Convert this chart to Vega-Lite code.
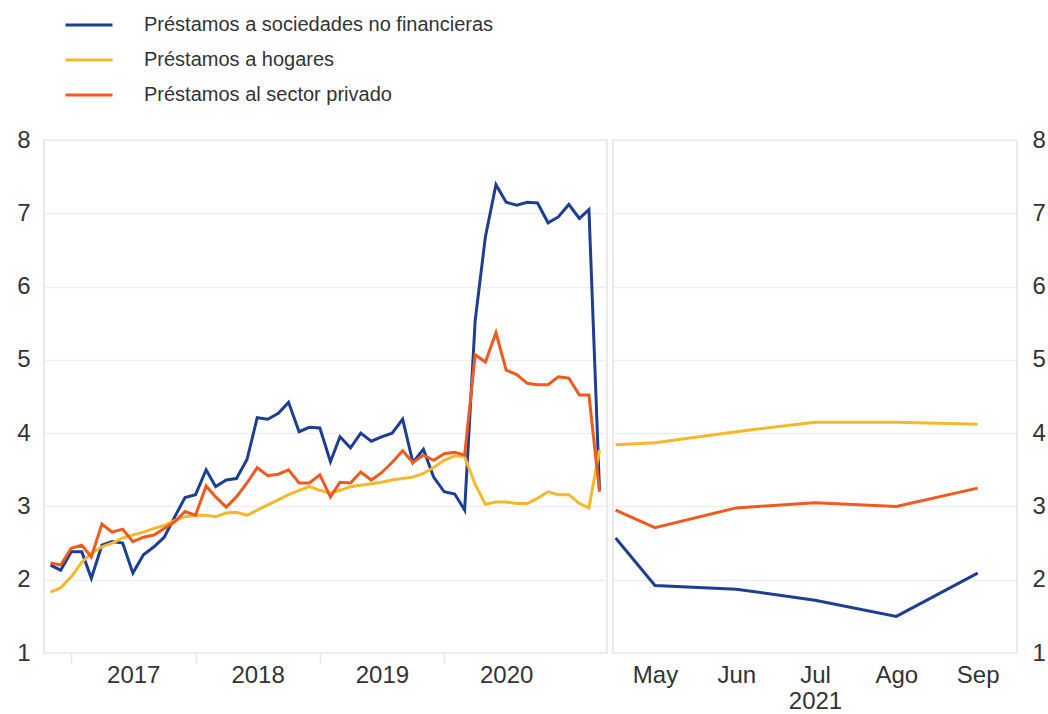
{
  "$schema": "https://vega.github.io/schema/vega-lite/v6.json",
  "background": "white",
  "padding": {"left": 15, "top": 0, "right": 0, "bottom": 0},
  "config": {
    "font": "Liberation Sans",
    "view": {"stroke": "#e3e3e3", "strokeWidth": 1.5},
    "axis": {
      "labelFont": "Liberation Sans",
      "labelFontSize": 24,
      "labelColor": "#333333",
      "titleFont": "Liberation Sans",
      "titleFontSize": 24,
      "titleFontWeight": "normal",
      "titleColor": "#333333",
      "domain": false,
      "gridColor": "#eeeeee",
      "gridWidth": 1.5
    },
    "line": {"strokeWidth": 3}
  },
  "datasets": {
    "mensual": [
      {"fecha": "2016-11-01", "serie": "Préstamos a sociedades no financieras", "valor": 2.20},
      {"fecha": "2016-12-01", "serie": "Préstamos a sociedades no financieras", "valor": 2.13},
      {"fecha": "2017-01-01", "serie": "Préstamos a sociedades no financieras", "valor": 2.38},
      {"fecha": "2017-02-01", "serie": "Préstamos a sociedades no financieras", "valor": 2.38},
      {"fecha": "2017-03-01", "serie": "Préstamos a sociedades no financieras", "valor": 2.02},
      {"fecha": "2017-04-01", "serie": "Préstamos a sociedades no financieras", "valor": 2.47},
      {"fecha": "2017-05-01", "serie": "Préstamos a sociedades no financieras", "valor": 2.52},
      {"fecha": "2017-06-01", "serie": "Préstamos a sociedades no financieras", "valor": 2.50},
      {"fecha": "2017-07-01", "serie": "Préstamos a sociedades no financieras", "valor": 2.09},
      {"fecha": "2017-08-01", "serie": "Préstamos a sociedades no financieras", "valor": 2.34},
      {"fecha": "2017-09-01", "serie": "Préstamos a sociedades no financieras", "valor": 2.45},
      {"fecha": "2017-10-01", "serie": "Préstamos a sociedades no financieras", "valor": 2.58},
      {"fecha": "2017-11-01", "serie": "Préstamos a sociedades no financieras", "valor": 2.86},
      {"fecha": "2017-12-01", "serie": "Préstamos a sociedades no financieras", "valor": 3.12},
      {"fecha": "2018-01-01", "serie": "Préstamos a sociedades no financieras", "valor": 3.16},
      {"fecha": "2018-02-01", "serie": "Préstamos a sociedades no financieras", "valor": 3.50},
      {"fecha": "2018-03-01", "serie": "Préstamos a sociedades no financieras", "valor": 3.27},
      {"fecha": "2018-04-01", "serie": "Préstamos a sociedades no financieras", "valor": 3.36},
      {"fecha": "2018-05-01", "serie": "Préstamos a sociedades no financieras", "valor": 3.38},
      {"fecha": "2018-06-01", "serie": "Préstamos a sociedades no financieras", "valor": 3.64},
      {"fecha": "2018-07-01", "serie": "Préstamos a sociedades no financieras", "valor": 4.21},
      {"fecha": "2018-08-01", "serie": "Préstamos a sociedades no financieras", "valor": 4.19},
      {"fecha": "2018-09-01", "serie": "Préstamos a sociedades no financieras", "valor": 4.27},
      {"fecha": "2018-10-01", "serie": "Préstamos a sociedades no financieras", "valor": 4.42},
      {"fecha": "2018-11-01", "serie": "Préstamos a sociedades no financieras", "valor": 4.02},
      {"fecha": "2018-12-01", "serie": "Préstamos a sociedades no financieras", "valor": 4.08},
      {"fecha": "2019-01-01", "serie": "Préstamos a sociedades no financieras", "valor": 4.07},
      {"fecha": "2019-02-01", "serie": "Préstamos a sociedades no financieras", "valor": 3.61},
      {"fecha": "2019-03-01", "serie": "Préstamos a sociedades no financieras", "valor": 3.95},
      {"fecha": "2019-04-01", "serie": "Préstamos a sociedades no financieras", "valor": 3.80},
      {"fecha": "2019-05-01", "serie": "Préstamos a sociedades no financieras", "valor": 4.00},
      {"fecha": "2019-06-01", "serie": "Préstamos a sociedades no financieras", "valor": 3.89},
      {"fecha": "2019-07-01", "serie": "Préstamos a sociedades no financieras", "valor": 3.95},
      {"fecha": "2019-08-01", "serie": "Préstamos a sociedades no financieras", "valor": 4.00},
      {"fecha": "2019-09-01", "serie": "Préstamos a sociedades no financieras", "valor": 4.19},
      {"fecha": "2019-10-01", "serie": "Préstamos a sociedades no financieras", "valor": 3.60},
      {"fecha": "2019-11-01", "serie": "Préstamos a sociedades no financieras", "valor": 3.78},
      {"fecha": "2019-12-01", "serie": "Préstamos a sociedades no financieras", "valor": 3.40},
      {"fecha": "2020-01-01", "serie": "Préstamos a sociedades no financieras", "valor": 3.20},
      {"fecha": "2020-02-01", "serie": "Préstamos a sociedades no financieras", "valor": 3.17},
      {"fecha": "2020-03-01", "serie": "Préstamos a sociedades no financieras", "valor": 2.95},
      {"fecha": "2020-04-01", "serie": "Préstamos a sociedades no financieras", "valor": 5.54},
      {"fecha": "2020-05-01", "serie": "Préstamos a sociedades no financieras", "valor": 6.68},
      {"fecha": "2020-06-01", "serie": "Préstamos a sociedades no financieras", "valor": 7.39},
      {"fecha": "2020-07-01", "serie": "Préstamos a sociedades no financieras", "valor": 7.15},
      {"fecha": "2020-08-01", "serie": "Préstamos a sociedades no financieras", "valor": 7.11},
      {"fecha": "2020-09-01", "serie": "Préstamos a sociedades no financieras", "valor": 7.15},
      {"fecha": "2020-10-01", "serie": "Préstamos a sociedades no financieras", "valor": 7.14},
      {"fecha": "2020-11-01", "serie": "Préstamos a sociedades no financieras", "valor": 6.87},
      {"fecha": "2020-12-01", "serie": "Préstamos a sociedades no financieras", "valor": 6.95},
      {"fecha": "2021-01-01", "serie": "Préstamos a sociedades no financieras", "valor": 7.12},
      {"fecha": "2021-02-01", "serie": "Préstamos a sociedades no financieras", "valor": 6.93},
      {"fecha": "2021-03-01", "serie": "Préstamos a sociedades no financieras", "valor": 7.05},
      {"fecha": "2021-04-01", "serie": "Préstamos a sociedades no financieras", "valor": 3.22},
      {"fecha": "2016-11-01", "serie": "Préstamos a hogares", "valor": 1.83},
      {"fecha": "2016-12-01", "serie": "Préstamos a hogares", "valor": 1.89},
      {"fecha": "2017-01-01", "serie": "Préstamos a hogares", "valor": 2.04},
      {"fecha": "2017-02-01", "serie": "Préstamos a hogares", "valor": 2.24},
      {"fecha": "2017-03-01", "serie": "Préstamos a hogares", "valor": 2.36},
      {"fecha": "2017-04-01", "serie": "Préstamos a hogares", "valor": 2.45},
      {"fecha": "2017-05-01", "serie": "Préstamos a hogares", "valor": 2.50},
      {"fecha": "2017-06-01", "serie": "Préstamos a hogares", "valor": 2.57},
      {"fecha": "2017-07-01", "serie": "Préstamos a hogares", "valor": 2.61},
      {"fecha": "2017-08-01", "serie": "Préstamos a hogares", "valor": 2.65},
      {"fecha": "2017-09-01", "serie": "Préstamos a hogares", "valor": 2.70},
      {"fecha": "2017-10-01", "serie": "Préstamos a hogares", "valor": 2.74},
      {"fecha": "2017-11-01", "serie": "Préstamos a hogares", "valor": 2.81},
      {"fecha": "2017-12-01", "serie": "Préstamos a hogares", "valor": 2.86},
      {"fecha": "2018-01-01", "serie": "Préstamos a hogares", "valor": 2.88},
      {"fecha": "2018-02-01", "serie": "Préstamos a hogares", "valor": 2.88},
      {"fecha": "2018-03-01", "serie": "Préstamos a hogares", "valor": 2.86},
      {"fecha": "2018-04-01", "serie": "Préstamos a hogares", "valor": 2.91},
      {"fecha": "2018-05-01", "serie": "Préstamos a hogares", "valor": 2.92},
      {"fecha": "2018-06-01", "serie": "Préstamos a hogares", "valor": 2.88},
      {"fecha": "2018-07-01", "serie": "Préstamos a hogares", "valor": 2.95},
      {"fecha": "2018-08-01", "serie": "Préstamos a hogares", "valor": 3.02},
      {"fecha": "2018-09-01", "serie": "Préstamos a hogares", "valor": 3.09},
      {"fecha": "2018-10-01", "serie": "Préstamos a hogares", "valor": 3.16},
      {"fecha": "2018-11-01", "serie": "Préstamos a hogares", "valor": 3.22},
      {"fecha": "2018-12-01", "serie": "Préstamos a hogares", "valor": 3.27},
      {"fecha": "2019-01-01", "serie": "Préstamos a hogares", "valor": 3.22},
      {"fecha": "2019-02-01", "serie": "Préstamos a hogares", "valor": 3.18},
      {"fecha": "2019-03-01", "serie": "Préstamos a hogares", "valor": 3.22},
      {"fecha": "2019-04-01", "serie": "Préstamos a hogares", "valor": 3.27},
      {"fecha": "2019-05-01", "serie": "Préstamos a hogares", "valor": 3.29},
      {"fecha": "2019-06-01", "serie": "Préstamos a hogares", "valor": 3.31},
      {"fecha": "2019-07-01", "serie": "Préstamos a hogares", "valor": 3.33},
      {"fecha": "2019-08-01", "serie": "Préstamos a hogares", "valor": 3.36},
      {"fecha": "2019-09-01", "serie": "Préstamos a hogares", "valor": 3.38},
      {"fecha": "2019-10-01", "serie": "Préstamos a hogares", "valor": 3.40},
      {"fecha": "2019-11-01", "serie": "Préstamos a hogares", "valor": 3.45},
      {"fecha": "2019-12-01", "serie": "Préstamos a hogares", "valor": 3.53},
      {"fecha": "2020-01-01", "serie": "Préstamos a hogares", "valor": 3.63},
      {"fecha": "2020-02-01", "serie": "Préstamos a hogares", "valor": 3.69},
      {"fecha": "2020-03-01", "serie": "Préstamos a hogares", "valor": 3.68},
      {"fecha": "2020-04-01", "serie": "Préstamos a hogares", "valor": 3.30},
      {"fecha": "2020-05-01", "serie": "Préstamos a hogares", "valor": 3.03},
      {"fecha": "2020-06-01", "serie": "Préstamos a hogares", "valor": 3.06},
      {"fecha": "2020-07-01", "serie": "Préstamos a hogares", "valor": 3.06},
      {"fecha": "2020-08-01", "serie": "Préstamos a hogares", "valor": 3.04},
      {"fecha": "2020-09-01", "serie": "Préstamos a hogares", "valor": 3.04},
      {"fecha": "2020-10-01", "serie": "Préstamos a hogares", "valor": 3.11},
      {"fecha": "2020-11-01", "serie": "Préstamos a hogares", "valor": 3.20},
      {"fecha": "2020-12-01", "serie": "Préstamos a hogares", "valor": 3.16},
      {"fecha": "2021-01-01", "serie": "Préstamos a hogares", "valor": 3.16},
      {"fecha": "2021-02-01", "serie": "Préstamos a hogares", "valor": 3.04},
      {"fecha": "2021-03-01", "serie": "Préstamos a hogares", "valor": 2.98},
      {"fecha": "2021-04-01", "serie": "Préstamos a hogares", "valor": 3.77},
      {"fecha": "2016-11-01", "serie": "Préstamos al sector privado", "valor": 2.23},
      {"fecha": "2016-12-01", "serie": "Préstamos al sector privado", "valor": 2.20},
      {"fecha": "2017-01-01", "serie": "Préstamos al sector privado", "valor": 2.43},
      {"fecha": "2017-02-01", "serie": "Préstamos al sector privado", "valor": 2.47},
      {"fecha": "2017-03-01", "serie": "Préstamos al sector privado", "valor": 2.31},
      {"fecha": "2017-04-01", "serie": "Préstamos al sector privado", "valor": 2.76},
      {"fecha": "2017-05-01", "serie": "Préstamos al sector privado", "valor": 2.65},
      {"fecha": "2017-06-01", "serie": "Préstamos al sector privado", "valor": 2.69},
      {"fecha": "2017-07-01", "serie": "Préstamos al sector privado", "valor": 2.52},
      {"fecha": "2017-08-01", "serie": "Préstamos al sector privado", "valor": 2.58},
      {"fecha": "2017-09-01", "serie": "Préstamos al sector privado", "valor": 2.61},
      {"fecha": "2017-10-01", "serie": "Préstamos al sector privado", "valor": 2.70},
      {"fecha": "2017-11-01", "serie": "Préstamos al sector privado", "valor": 2.79},
      {"fecha": "2017-12-01", "serie": "Préstamos al sector privado", "valor": 2.93},
      {"fecha": "2018-01-01", "serie": "Préstamos al sector privado", "valor": 2.88},
      {"fecha": "2018-02-01", "serie": "Préstamos al sector privado", "valor": 3.28},
      {"fecha": "2018-03-01", "serie": "Préstamos al sector privado", "valor": 3.13},
      {"fecha": "2018-04-01", "serie": "Préstamos al sector privado", "valor": 2.99},
      {"fecha": "2018-05-01", "serie": "Préstamos al sector privado", "valor": 3.13},
      {"fecha": "2018-06-01", "serie": "Préstamos al sector privado", "valor": 3.32},
      {"fecha": "2018-07-01", "serie": "Préstamos al sector privado", "valor": 3.53},
      {"fecha": "2018-08-01", "serie": "Préstamos al sector privado", "valor": 3.42},
      {"fecha": "2018-09-01", "serie": "Préstamos al sector privado", "valor": 3.44},
      {"fecha": "2018-10-01", "serie": "Préstamos al sector privado", "valor": 3.50},
      {"fecha": "2018-11-01", "serie": "Préstamos al sector privado", "valor": 3.32},
      {"fecha": "2018-12-01", "serie": "Préstamos al sector privado", "valor": 3.32},
      {"fecha": "2019-01-01", "serie": "Préstamos al sector privado", "valor": 3.43},
      {"fecha": "2019-02-01", "serie": "Préstamos al sector privado", "valor": 3.13},
      {"fecha": "2019-03-01", "serie": "Préstamos al sector privado", "valor": 3.33},
      {"fecha": "2019-04-01", "serie": "Préstamos al sector privado", "valor": 3.32},
      {"fecha": "2019-05-01", "serie": "Préstamos al sector privado", "valor": 3.47},
      {"fecha": "2019-06-01", "serie": "Préstamos al sector privado", "valor": 3.36},
      {"fecha": "2019-07-01", "serie": "Préstamos al sector privado", "valor": 3.46},
      {"fecha": "2019-08-01", "serie": "Préstamos al sector privado", "valor": 3.60},
      {"fecha": "2019-09-01", "serie": "Préstamos al sector privado", "valor": 3.76},
      {"fecha": "2019-10-01", "serie": "Préstamos al sector privado", "valor": 3.60},
      {"fecha": "2019-11-01", "serie": "Préstamos al sector privado", "valor": 3.70},
      {"fecha": "2019-12-01", "serie": "Préstamos al sector privado", "valor": 3.63},
      {"fecha": "2020-01-01", "serie": "Préstamos al sector privado", "valor": 3.72},
      {"fecha": "2020-02-01", "serie": "Préstamos al sector privado", "valor": 3.74},
      {"fecha": "2020-03-01", "serie": "Préstamos al sector privado", "valor": 3.70},
      {"fecha": "2020-04-01", "serie": "Préstamos al sector privado", "valor": 5.07},
      {"fecha": "2020-05-01", "serie": "Préstamos al sector privado", "valor": 4.97},
      {"fecha": "2020-06-01", "serie": "Préstamos al sector privado", "valor": 5.37},
      {"fecha": "2020-07-01", "serie": "Préstamos al sector privado", "valor": 4.86},
      {"fecha": "2020-08-01", "serie": "Préstamos al sector privado", "valor": 4.80},
      {"fecha": "2020-09-01", "serie": "Préstamos al sector privado", "valor": 4.68},
      {"fecha": "2020-10-01", "serie": "Préstamos al sector privado", "valor": 4.66},
      {"fecha": "2020-11-01", "serie": "Préstamos al sector privado", "valor": 4.66},
      {"fecha": "2020-12-01", "serie": "Préstamos al sector privado", "valor": 4.77},
      {"fecha": "2021-01-01", "serie": "Préstamos al sector privado", "valor": 4.75},
      {"fecha": "2021-02-01", "serie": "Préstamos al sector privado", "valor": 4.52},
      {"fecha": "2021-03-01", "serie": "Préstamos al sector privado", "valor": 4.52},
      {"fecha": "2021-04-01", "serie": "Préstamos al sector privado", "valor": 3.20}
    ],
    "reciente": [
      {"fecha": "2021-04-16", "serie": "Préstamos a sociedades no financieras", "valor": 2.57},
      {"fecha": "2021-05-01", "serie": "Préstamos a sociedades no financieras", "valor": 1.92},
      {"fecha": "2021-06-01", "serie": "Préstamos a sociedades no financieras", "valor": 1.87},
      {"fecha": "2021-07-01", "serie": "Préstamos a sociedades no financieras", "valor": 1.72},
      {"fecha": "2021-08-01", "serie": "Préstamos a sociedades no financieras", "valor": 1.50},
      {"fecha": "2021-09-01", "serie": "Préstamos a sociedades no financieras", "valor": 2.09},
      {"fecha": "2021-04-16", "serie": "Préstamos a hogares", "valor": 3.84},
      {"fecha": "2021-05-01", "serie": "Préstamos a hogares", "valor": 3.87},
      {"fecha": "2021-06-01", "serie": "Préstamos a hogares", "valor": 4.02},
      {"fecha": "2021-07-01", "serie": "Préstamos a hogares", "valor": 4.15},
      {"fecha": "2021-08-01", "serie": "Préstamos a hogares", "valor": 4.15},
      {"fecha": "2021-09-01", "serie": "Préstamos a hogares", "valor": 4.12},
      {"fecha": "2021-04-16", "serie": "Préstamos al sector privado", "valor": 2.95},
      {"fecha": "2021-05-01", "serie": "Préstamos al sector privado", "valor": 2.71},
      {"fecha": "2021-06-01", "serie": "Préstamos al sector privado", "valor": 2.98},
      {"fecha": "2021-07-01", "serie": "Préstamos al sector privado", "valor": 3.05},
      {"fecha": "2021-08-01", "serie": "Préstamos al sector privado", "valor": 3.00},
      {"fecha": "2021-09-01", "serie": "Préstamos al sector privado", "valor": 3.25}
    ]
  },
  "spacing": 0,
  "resolve": {"scale": {"color": "shared"}},
  "hconcat": [
    {
      "width": 563,
      "height": 513,
      "data": {"name": "mensual"},
      "mark": {"type": "line", "strokeWidth": 3},
      "encoding": {
        "x": {
          "field": "fecha",
          "type": "temporal",
          "scale": {"type": "utc", "domain": [{"year": 2016, "month": 10, "date": 13, "utc": true}, {"year": 2021, "month": 4, "date": 23, "utc": true}]},
          "axis": {
            "title": null,
            "grid": false,
            "values": [{"year": 2017, "month": 1, "date": 1, "utc": true}, {"year": 2018, "month": 1, "date": 1, "utc": true}, {"year": 2019, "month": 1, "date": 1, "utc": true}, {"year": 2020, "month": 1, "date": 1, "utc": true}],
            "labelExpr": "'' + utcyear(datum.value)",
            "labelOffset": 62,
            "labelOverlap": false,
            "labelFlush": false,
            "labelBound": false,
            "ticks": true,
            "tickSize": 10,
            "tickColor": "#e6e6e6",
            "tickWidth": 1.5,
            "labelPadding": 0
          }
        },
        "y": {
          "field": "valor",
          "type": "quantitative",
          "scale": {"domain": [1, 8], "nice": false, "zero": false},
          "axis": {"title": null, "values": [1, 2, 3, 4, 5, 6, 7, 8], "ticks": false, "labelPadding": 14, "grid": true}
        },
        "color": {
          "field": "serie",
          "type": "nominal",
          "scale": {
            "domain": ["Préstamos a sociedades no financieras", "Préstamos a hogares", "Préstamos al sector privado"],
            "range": ["#1c3f94", "#f5b82a", "#f05a1e"]
          },
          "legend": {
            "title": null,
            "orient": "none",
            "legendX": 20,
            "legendY": -140,
            "symbolType": "stroke",
            "symbolSize": 2209,
            "symbolStrokeWidth": 3,
            "labelFontSize": 20,
            "labelFont": "Liberation Sans",
            "labelColor": "#333333",
            "labelOffset": 30,
            "rowPadding": -16,
            "labelLimit": 500
          }
        }
      }
    },
    {
      "width": 404,
      "height": 513,
      "data": {"name": "reciente"},
      "mark": {"type": "line", "strokeWidth": 3},
      "encoding": {
        "x": {
          "field": "fecha",
          "type": "temporal",
          "scale": {"type": "utc", "domain": [{"year": 2021, "month": 4, "date": 15, "utc": true}, {"year": 2021, "month": 9, "date": 16, "utc": true}]},
          "axis": {
            "title": "2021",
            "titlePadding": 2,
            "grid": false,
            "ticks": false,
            "values": [{"year": 2021, "month": 5, "date": 1, "utc": true}, {"year": 2021, "month": 6, "date": 1, "utc": true}, {"year": 2021, "month": 7, "date": 1, "utc": true}, {"year": 2021, "month": 8, "date": 1, "utc": true}, {"year": 2021, "month": 9, "date": 1, "utc": true}],
            "labelExpr": "['Ene','Feb','Mar','Abr','May','Jun','Jul','Ago','Sep','Oct','Nov','Dic'][utcmonth(datum.value)]",
            "labelOverlap": false,
            "labelFlush": false,
            "labelPadding": 10
          }
        },
        "y": {
          "field": "valor",
          "type": "quantitative",
          "scale": {"domain": [1, 8], "nice": false, "zero": false},
          "axis": {"title": null, "orient": "right", "values": [1, 2, 3, 4, 5, 6, 7, 8], "ticks": false, "labelPadding": 15, "grid": true}
        },
        "color": {
          "field": "serie",
          "type": "nominal",
          "scale": {
            "domain": ["Préstamos a sociedades no financieras", "Préstamos a hogares", "Préstamos al sector privado"],
            "range": ["#1c3f94", "#f5b82a", "#f05a1e"]
          }
        }
      }
    }
  ]
}
